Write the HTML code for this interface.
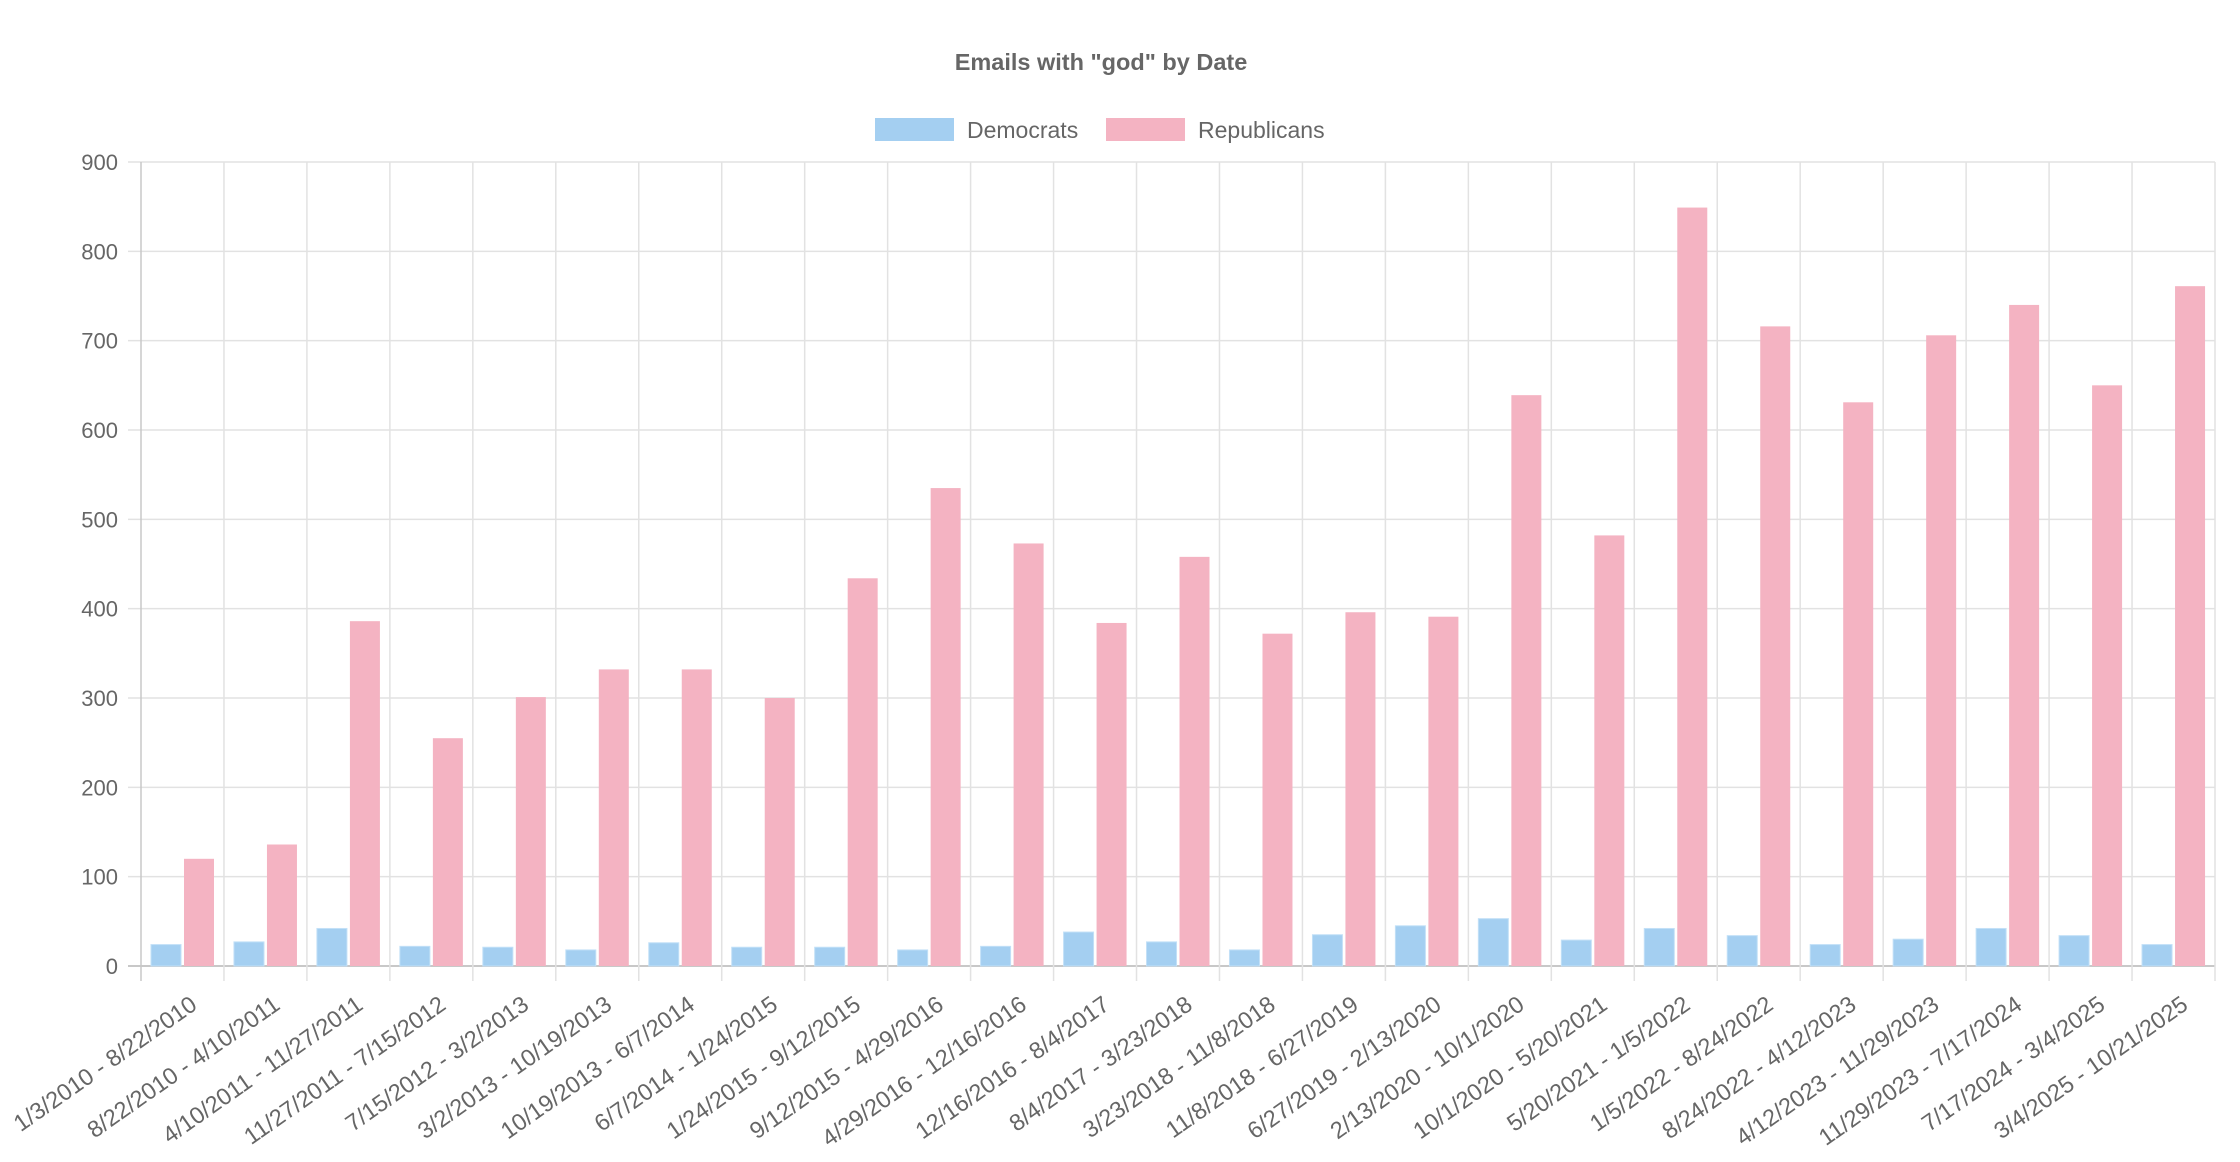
<!DOCTYPE html>
<html><head><meta charset="utf-8"><style>html,body{margin:0;padding:0;background:#fff}svg{display:block}</style></head>
<body>
<svg id="c" width="2240" height="1162" xmlns="http://www.w3.org/2000/svg" font-family="Liberation Sans, sans-serif"></svg>
<script>
const s=document.getElementById('c');
const L=141,R=2215,T=162,B=966;
const labels=["1/3/2010 - 8/22/2010","8/22/2010 - 4/10/2011","4/10/2011 - 11/27/2011","11/27/2011 - 7/15/2012","7/15/2012 - 3/2/2013","3/2/2013 - 10/19/2013","10/19/2013 - 6/7/2014","6/7/2014 - 1/24/2015","1/24/2015 - 9/12/2015","9/12/2015 - 4/29/2016","4/29/2016 - 12/16/2016","12/16/2016 - 8/4/2017","8/4/2017 - 3/23/2018","3/23/2018 - 11/8/2018","11/8/2018 - 6/27/2019","6/27/2019 - 2/13/2020","2/13/2020 - 10/1/2020","10/1/2020 - 5/20/2021","5/20/2021 - 1/5/2022","1/5/2022 - 8/24/2022","8/24/2022 - 4/12/2023","4/12/2023 - 11/29/2023","11/29/2023 - 7/17/2024","7/17/2024 - 3/4/2025","3/4/2025 - 10/21/2025"];
const dem=[24,27,42,22,21,18,26,21,21,18,22,38,27,18,35,45,53,29,42,34,24,30,42,34,24];
const rep=[120,136,386,255,301,332,332,300,434,535,473,384,458,372,396,391,639,482,849,716,631,706,740,650,761];
let h='';
const y=v=>B-(v/900)*(B-T);
for(let i=0;i<=9;i++){const yy=y(i*100);h+=`<line x1="128" x2="${R}" y1="${yy}" y2="${yy}" stroke="${i==0?'#c8c8c8':'#e2e2e2'}" stroke-width="${i==0?2:1.5}"/>`;
h+=`<text x="118" y="${yy+8}" text-anchor="end" font-size="22" fill="#666">${i*100}</text>`;}
const w=(R-L)/25;
for(let i=0;i<=25;i++){const x=L+i*w;h+=`<line x1="${x}" x2="${x}" y1="${T}" y2="${B+15}" stroke="${i==0?'#c8c8c8':'#e2e2e2'}" stroke-width="1.5"/>`;}
for(let i=0;i<25;i++){const c=L+i*w;
h+=`<rect x="${c+10}" y="${y(dem[i])}" width="30" height="${B-y(dem[i])}" fill="#a4cff1" stroke="#c2e0f7" stroke-width="1"/>`;
h+=`<rect x="${c+43}" y="${y(rep[i])}" width="30" height="${B-y(rep[i])}" fill="#f4b3c2"/>`;
const cx=c+w/2+16;
h+=`<text transform="translate(${cx},1008) rotate(-35)" text-anchor="end" font-size="23.5" fill="#666">${labels[i]}</text>`;}
h+=`<text x="1101" y="70" text-anchor="middle" font-size="23.5" font-weight="bold" fill="#666">Emails with "god" by Date</text>`;
h+=`<rect x="875" y="118" width="79" height="23" fill="#a4cff1"/><text x="967" y="138" font-size="23" fill="#666">Democrats</text>`;
h+=`<rect x="1106" y="118" width="79" height="23" fill="#f4b3c2"/><text x="1198" y="138" font-size="23" fill="#666">Republicans</text>`;
s.innerHTML=h;
</script>
</body></html>
